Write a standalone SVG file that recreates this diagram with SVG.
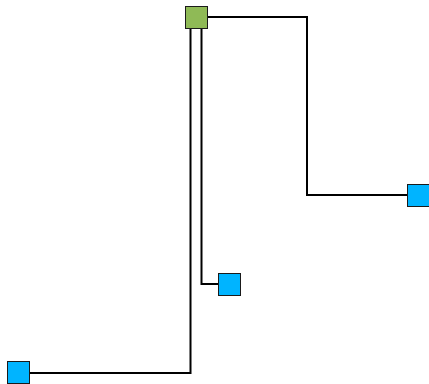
<svg xmlns="http://www.w3.org/2000/svg" width="429" height="384" viewBox="0 0 429 384">
<style>
.e{fill:none;stroke:#000;stroke-width:2}
.n{stroke:#1a1a1a;stroke-width:1}
.b{fill:#00b4ff}
.g{fill:#8fba56}
</style>
<rect width="429" height="384" fill="#fff"/>
<g id="connectors">
<path class="e" d="M207,17 H307 V195 H407"/>
<path class="e" d="M201.5,29 V284 H218"/>
<path class="e" d="M190.5,29 V373 H29"/>
</g>
<g id="root"><rect class="n g" x="185.5" y="6.5" width="22" height="22"/></g>
<g id="right"><rect class="n b" x="407.5" y="184.5" width="22" height="22"/></g>
<g id="middle"><rect class="n b" x="218.5" y="273.5" width="22" height="22"/></g>
<g id="left"><rect class="n b" x="7.5" y="361.5" width="22" height="22"/></g>
</svg>
